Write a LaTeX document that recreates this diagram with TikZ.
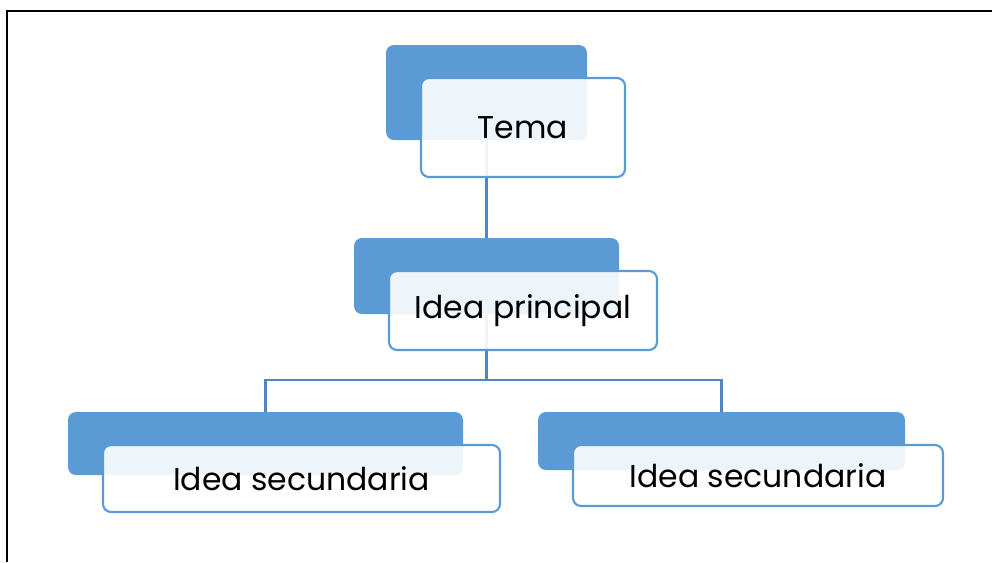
\documentclass[tikz,border=0pt]{standalone}
\usepackage{fontspec}
\setmainfont{Poppins}
\usepackage{xcolor}
\definecolor{officeblue}{HTML}{5B9BD5}
\definecolor{linkblue}{HTML}{4F86C0}
\def\pxu{0.75pt}

\begin{document}
\begin{tikzpicture}[x=\pxu,y=-\pxu]
    \tikzstyle{box}=[rectangle,rounded corners=6pt,inner sep=0pt]
    \tikzstyle{back box}=[box, fill=officeblue]
    \tikzstyle{front box}=[box, draw=officeblue, line width=1.6pt, fill=white,
        fill opacity=0.9, text opacity=1, font=\fontsize{23.6}{28}\selectfont]
    \tikzstyle{link}=[draw=linkblue, line width=1.6pt]

    \useasboundingbox (0,0) rectangle (992,562);
    % frame
    \draw[line width=1.8pt] (7,562) -- (7,11) -- (992,11);

    % Draw the back boxes
    \node[back box, minimum width=201*\pxu, minimum height=95*\pxu] (tema-b) at (486.5,92.5) {};
    \node[back box, minimum width=265*\pxu, minimum height=76*\pxu] (ip-b) at (486.5,276) {};
    \node[back box, minimum width=395*\pxu, minimum height=63*\pxu] (is1-b) at (265.5,443.5) {};
    \node[back box, minimum width=367*\pxu, minimum height=58*\pxu] (is2-b) at (721.5,441) {};

    % Connect the boxes
    \coordinate (split) at (486.5,380);
    \path[link] (tema-b.south) -- (ip-b.north);
    \path[link] (ip-b.south) -- (split);
    \path[link] (split) -| (is1-b.north);
    \path[link] (split) -| (is2-b.north);

    % Draw the front boxes with the texts
    \node[front box, minimum width=204*\pxu, minimum height=99*\pxu] (tema) at (523,127.5) {Tema};
    \node[front box, minimum width=268*\pxu, minimum height=79*\pxu] (ip) at (523,310.5) {Idea principal};
    \node[front box, minimum width=397*\pxu, minimum height=67*\pxu] (is1) at (301.5,478.5) {Idea secundaria};
    \node[front box, minimum width=370*\pxu, minimum height=61*\pxu] (is2) at (758,475.5) {Idea secundaria};
\end{tikzpicture}
\end{document}
